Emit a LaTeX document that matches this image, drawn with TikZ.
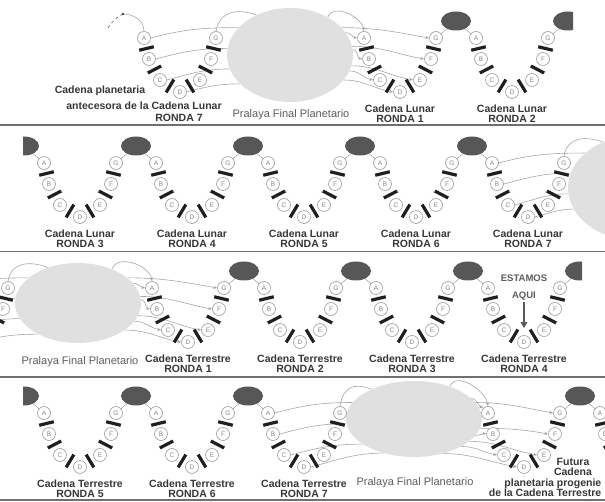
\documentclass[tikz,border=0pt]{standalone}
\usepackage{fontspec}
\setsansfont{Liberation Sans}
\usetikzlibrary{arrows.meta,positioning,shapes.geometric,calc,backgrounds}
\definecolor{mist}{HTML}{E0E0E0}
\definecolor{globegray}{HTML}{575757}
\definecolor{rim}{HTML}{9C9C9C}
\definecolor{wiregray}{HTML}{A6A6A6}
\definecolor{ink}{HTML}{363636}
\definecolor{ash}{HTML}{5C5C5C}
\definecolor{rulegray}{HTML}{707070}
\tikzset{
  bead/.style={circle, draw=rim, fill=white, line width=0.6pt,
    minimum size=13pt, inner sep=0pt, text=rim!85!black,
    font=\fontsize{6.5}{6.5}\selectfont\sffamily},
  cutbar/.style={draw=black!88, line width=3.2pt},
  planet/.style={ellipse, fill=globegray, minimum width=30pt,
    minimum height=19pt, inner sep=0pt},
  pralaya/.style={ellipse, fill=mist, inner sep=0pt},
  wire/.style={draw=wiregray, line width=0.6pt},
  wirearrow/.style={wire, -{Stealth[length=4pt, width=3pt]}},
  stem/.style={draw=rim, line width=0.5pt},
  roundlabel/.style={font=\fontsize{10.5}{10.5}\selectfont\sffamily\bfseries,
    text=ink, align=center, inner sep=0.5pt},
  pralayalabel/.style={font=\fontsize{11}{12}\selectfont\sffamily, text=ash,
    inner sep=0pt},
  rowrule/.style={draw=rulegray, line width=1.8pt},
  herearrow/.style={draw=ash, line width=1.5pt,
    -{Triangle[length=6pt, width=6.5pt]}},
  pics/chain/.style={code={
    \node[bead] (-A) at (-36,54) {A};
    \node[bead] (-B) at (-31,33) {B};
    \node[bead] (-C) at (-20,12) {C};
    \node[bead] (-D) at (0,0)    {D};
    \node[bead] (-E) at (20,12)  {E};
    \node[bead] (-F) at (31,33)  {F};
    \node[bead] (-G) at (36,54)  {G};
    \foreach \u/\v in {A/B,B/C,C/D,D/E,E/F,F/G}
      \draw[cutbar] ($(-\u)!0.5!(-\v)!7.5pt!90:(-\v)$)
                 -- ($(-\u)!0.5!(-\v)!7.5pt!-90:(-\v)$);
  }},
}

\begin{document}
\begin{tikzpicture}[x=1pt, y=1pt]
  \useasboundingbox (0,0) rectangle (605,-502);

  % row 1
  \node[pralaya, minimum width=126pt, minimum height=94pt] (p1) at (290,-55) {};
  \pic (ant) at (180,-92) {chain};
  \pic (l1) at (400,-92) {chain};
  \pic (l2) at (512,-92) {chain};
  \node[planet] (g1) at (456,-21) {};
  \begin{scope}
    \clip (0,0) rectangle (573,-124);
    \node[planet] (g2) at (568,-21) {};
  \end{scope}
  \coordinate (tail) at (108,-28);
  \coordinate (dot) at (123,-14);
  \draw[draw=ash, line width=0.6pt, dashed] (tail) to[bend left=15] (dot);
  \fill[ink] (dot) circle (1.4);
  \draw[wire] (dot) to[out=0, in=90] (ant-A.north);
  \node[roundlabel] (antt1) at (100,-91) {Cadena planetaria};
  \node[roundlabel] (antt2) at (144,-106) {antecesora de la Cadena Lunar};
  \node[roundlabel] (antt3) at (179,-118) {RONDA 7};
  \node[pralayalabel] (p1t) at (291,-115) {Pralaya Final Planetario};
  \node[roundlabel, below=5pt of l1-D] (l1t) {Cadena Lunar\\RONDA 1};
  \node[roundlabel, below=5pt of l2-D] (l2t) {Cadena Lunar\\RONDA 2};

  % row 2
  \node[pralaya, minimum width=134pt, minimum height=104pt] (p2) at (635,-188) {};
  \pic (l3) at (80,-217) {chain};
  \pic (l4) at (192,-217) {chain};
  \pic (l5) at (304,-217) {chain};
  \pic (l6) at (416,-217) {chain};
  \pic (l7) at (528,-217) {chain};
  \node[planet] (g3) at (136,-146) {};
  \node[planet] (g4) at (248,-146) {};
  \node[planet] (g5) at (360,-146) {};
  \node[planet] (g6) at (472,-146) {};
  \begin{scope}
    \clip (23,-126) rectangle (605,-251);
    \node[planet] (g0) at (24,-146) {};
  \end{scope}
  \node[roundlabel, below=5pt of l3-D] (l3t) {Cadena Lunar\\RONDA 3};
  \node[roundlabel, below=5pt of l4-D] (l4t) {Cadena Lunar\\RONDA 4};
  \node[roundlabel, below=5pt of l5-D] (l5t) {Cadena Lunar\\RONDA 5};
  \node[roundlabel, below=5pt of l6-D] (l6t) {Cadena Lunar\\RONDA 6};
  \node[roundlabel, below=5pt of l7-D] (l7t) {Cadena Lunar\\RONDA 7};

  % row 3
  \node[pralaya, minimum width=126pt, minimum height=80pt] (p3) at (78,-303) {};
  \pic (lz) at (-28,-342) {chain};
  \pic (t1) at (188,-342) {chain};
  \pic (t2) at (300,-342) {chain};
  \pic (t3) at (412,-342) {chain};
  \pic (t4) at (524,-342) {chain};
  \node[planet] (g7) at (244,-271) {};
  \node[planet] (g8) at (356,-271) {};
  \node[planet] (g9) at (468,-271) {};
  \begin{scope}
    \clip (0,-252) rectangle (582,-376);
    \node[planet] (g10) at (580,-271) {};
  \end{scope}
  \node[pralayalabel] (p3t) at (80,-362) {Pralaya Final Planetario};
  \node[roundlabel, below=5pt of t1-D] (t1t) {Cadena Terrestre\\RONDA 1};
  \node[roundlabel, below=5pt of t2-D] (t2t) {Cadena Terrestre\\RONDA 2};
  \node[roundlabel, below=5pt of t3-D] (t3t) {Cadena Terrestre\\RONDA 3};
  \node[roundlabel, below=5pt of t4-D] (t4t) {Cadena Terrestre\\RONDA 4};
  \node[font=\fontsize{9.5}{17}\selectfont\sffamily\bfseries, text=ash,
        align=center, inner sep=0.5pt] (aqui) at (524,-288) {ESTAMOS\\AQUI};
  \draw[herearrow, shorten <=1pt, shorten >=7pt] (aqui) -- (t4-D);

  % row 4
  \node[pralaya, minimum width=136pt, minimum height=76pt] (p4) at (414,-419) {};
  \pic (t5) at (80,-467) {chain};
  \pic (t6) at (192,-467) {chain};
  \pic (t7) at (304,-467) {chain};
  \pic (fut) at (524,-467) {chain};
  \pic (nx) at (636,-467) {chain};
  \node[planet] (g11) at (136,-396) {};
  \node[planet] (g12) at (248,-396) {};
  \node[planet] (gf) at (580,-396) {};
  \begin{scope}
    \clip (23,-378) rectangle (605,-499);
    \node[planet] (g13) at (24,-396) {};
  \end{scope}
  \node[roundlabel, below=5pt of t5-D] (t5t) {Cadena Terrestre\\RONDA 5};
  \node[roundlabel, below=5pt of t6-D] (t6t) {Cadena Terrestre\\RONDA 6};
  \node[roundlabel, below=5pt of t7-D] (t7t) {Cadena Terrestre\\RONDA 7};
  \node[pralayalabel] (p4t) at (415,-483) {Pralaya Final Planetario};
  \node[roundlabel] (futa) at (573,-467) {Futura\\Cadena};
  \node[roundlabel, align=right, anchor=east] (futb) at (602,-487.5)
    {planetaria progenie\\de la Cadena Terrestre};

  % separators
  \draw[rowrule] (0,-125) -- (605,-125);
  \draw[rowrule] (0,-251.5) -- (605,-251.5);
  \draw[rowrule] (0,-377) -- (605,-377);
  \draw[rowrule] (0,-500) -- (605,-500);

  \begin{pgfonlayer}{background}
    % globes and their chains
    \foreach \c/\g in {l1/g1,l2/g2,l3/g3,l4/g4,l5/g5,l6/g6,
                       t1/g7,t2/g8,t3/g9,t4/g10,t5/g11,t6/g12,fut/gf}
      \draw[stem] (\c-G) -- (\g);
    \foreach \g/\c in {g1/l2,g0/l3,g3/l4,g4/l5,g5/l6,g6/l7,
                       g7/t2,g8/t3,g9/t4,g13/t5,g11/t6,g12/t7,gf/nx}
      \draw[stem] (\g) -- (\c-A);
    % into and out of the pralayas
    \foreach \b/\a in {A/152,B/174,C/193,D/210}
      \draw[wire] (ant-\b.east) to[out=15, in=180] (p1.\a);
    \draw[wire] (ant-G.north) to[out=80, in=160, looseness=1.2] (p1.130);
    \draw[wirearrow] (p1.45) to[out=70, in=100] (l1-A.north);
    \foreach \b/\a in {A/22,G/28,B/5,F/8,C/345,E/350,D/335}
      \draw[wirearrow] (p1.\a) to[out=0, in=170] (l1-\b.west);

    \foreach \b/\a in {A/145,B/167,C/185,D/199}
      \draw[wire] (l7-\b.east) to[out=15, in=180] (p2.\a);
    \draw[wire] (l7-G.north) to[out=80, in=160, looseness=1.2] (p2.125);

    \foreach \b/\a in {A/153,B/176,C/195,D/218}
      \draw[wire] (lz-\b.east) to[out=15, in=180] (p3.\a);
    \draw[wire] (lz-G.north) to[out=80, in=160, looseness=1.2] (p3.130);
    \draw[wirearrow] (p3.45) to[out=70, in=100] (t1-A.north);
    \foreach \b/\a in {A/20,G/27,B/3,F/6,C/342,E/348,D/330}
      \draw[wirearrow] (p3.\a) to[out=0, in=170] (t1-\b.west);

    \foreach \b/\a in {A/165,B/184,C/206,D/228}
      \draw[wire] (t7-\b.east) to[out=15, in=180] (p4.\a);
    \draw[wire] (t7-G.north) to[out=80, in=160, looseness=1.4] (p4.145);
    \draw[wirearrow] (p4.42) to[out=70, in=100] (fut-A.north);
    \draw[wirearrow] (p4.20) to[out=-10, in=150] (fut-A.north west);
    \foreach \b/\a in {G/15,B/345,F/352,C/330,E/338,D/310}
      \draw[wirearrow] (p4.\a) to[out=0, in=170] (fut-\b.west);
  \end{pgfonlayer}
\end{tikzpicture}
\end{document}
